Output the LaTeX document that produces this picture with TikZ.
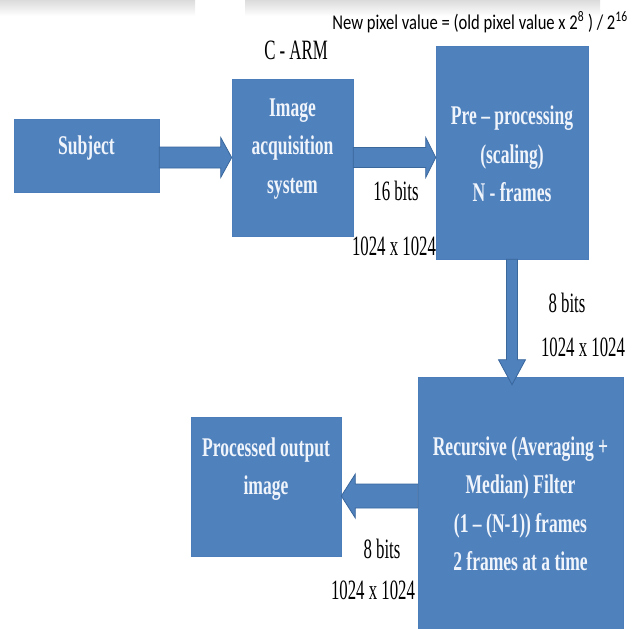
\documentclass[tikz,border=0pt]{standalone}
\usepackage{fontspec}
\setmainfont{Liberation Serif}
\newfontfamily\boxfont[FakeStretch=0.65]{Liberation Serif}
\newfontfamily\lblfont[FakeStretch=0.6]{Liberation Serif}
\newfontfamily\frmfont[FakeStretch=0.79]{Carlito}
\usetikzlibrary{calc}
\definecolor{boxblue}{HTML}{4F81BD}
\definecolor{boxedge}{HTML}{4A7DB9}
\definecolor{arredge}{HTML}{3A679C}
\definecolor{boxtext}{HTML}{F0F4FB}
\tikzset{
  blk/.style={fill=boxblue, draw=boxedge, line width=0.6pt, inner sep=0pt},
  btext/.style={font=\boxfont\bfseries\fontsize{27}{38.5}\selectfont, text=boxtext, align=center, inner sep=0pt},
  lbl/.style={font=\lblfont\fontsize{28}{30}\selectfont, text=black, inner sep=0pt},
  frm/.style={font=\frmfont\fontsize{21}{24}\selectfont, text=black, inner sep=0pt},
  blockarrow/.style={fill=boxblue, draw=arredge, line width=0.8pt, line join=miter},
}
\begin{document}
\begin{tikzpicture}[x=1pt,y=-1pt]
\useasboundingbox (0,0) rectangle (638,629);
% faint blurred band at the top
\shade[top color=gray!28, bottom color=white] (0,0) rectangle (195,16);
\shade[top color=gray!28, bottom color=white] (245,0) rectangle (600,16);

% boxes
\node[blk, minimum width=145pt, minimum height=73pt] (subj) at (86.5,155.5) {};
\node[blk, minimum width=121pt, minimum height=157pt] (ia) at (292.5,157.5) {};
\node[blk, minimum width=152pt, minimum height=213pt] (pre) at (512,152.5) {};
\node[blk, minimum width=205pt, minimum height=263pt] (rec) at (520.5,508.5) {};
\node[blk, minimum width=150pt, minimum height=139pt] (proc) at (266,486.5) {};

% box texts
\node[btext] (subjt) at ($(subj.center)+(0,-7.5)$) {Subject};
\node[btext] (iat) at ($(ia.center)+(0,-8.5)$) {Image\\acquisition\\system};
\node[btext] (pret) at ($(pre.center)+(0,1.5)$) {Pre – processing\\(scaling)\\N - frames};
\node[btext] (rect) at ($(rec.center)+(0,-4.5)$) {Recursive (Averaging +\\Median) Filter\\(1 – (N-1)) frames\\2 frames at a time};
\node[btext] (proct) at ($(proc.center)+(0,-17.5)$) {Processed output\\image};

% block arrows
\draw[blockarrow] ($(subj.east |- ia.west)+(0,-10.5)$) -- ($(ia.west)+(-11,-10.5)$) -- ($(ia.west)+(-11,-20)$) -- (ia.west) -- ($(ia.west)+(-11,20)$) -- ($(ia.west)+(-11,10.5)$) -- ($(subj.east |- ia.west)+(0,10.5)$) -- cycle;
\draw[blockarrow] ($(ia.east)+(0,-10)$) -- ($(pre.west |- ia.east)+(-10,-10)$) -- ($(pre.west |- ia.east)+(-10,-20)$) -- (pre.west |- ia.east) -- ($(pre.west |- ia.east)+(-10,20)$) -- ($(pre.west |- ia.east)+(-10,10)$) -- ($(ia.east)+(0,10)$) -- cycle;
\coordinate (dtip) at ($(pre.south |- rec.north)+(0,8)$);
\draw[blockarrow] ($(pre.south)+(-5.5,0)$) -- ($(dtip)+(-5.5,-25)$) -- ($(dtip)+(-13.5,-25)$) -- (dtip) -- ($(dtip)+(13.5,-25)$) -- ($(dtip)+(5.5,-25)$) -- ($(pre.south)+(5.5,0)$) -- cycle;
\coordinate (ltip) at ($(proc.east)+(0,9.5)$);
\draw[blockarrow] (ltip) -- ($(ltip)+(14,-22)$) -- ($(ltip)+(14,-12)$) -- ($(rec.west |- ltip)+(0,-12)$) -- ($(rec.west |- ltip)+(0,12)$) -- ($(ltip)+(14,12)$) -- ($(ltip)+(14,22)$) -- cycle;

% labels
\node[lbl] (carm) at (296,50) {C - ARM};
\node[frm] (formula) at (480,22) {New pixel value = (old pixel value x 2\textsuperscript{8} ) / 2\textsuperscript{16}};
\node[lbl] (b16) at (396,191) {16 bits};
\node[lbl] (res1) at (394,246) {1024 x 1024};
\node[lbl] (b8a) at (567,303) {8 bits};
\node[lbl] (res2) at (583,347) {1024 x 1024};
\node[lbl] (b8b) at (382,549) {8 bits};
\node[lbl] (res3) at (373,590) {1024 x 1024};
\end{tikzpicture}
\end{document}
